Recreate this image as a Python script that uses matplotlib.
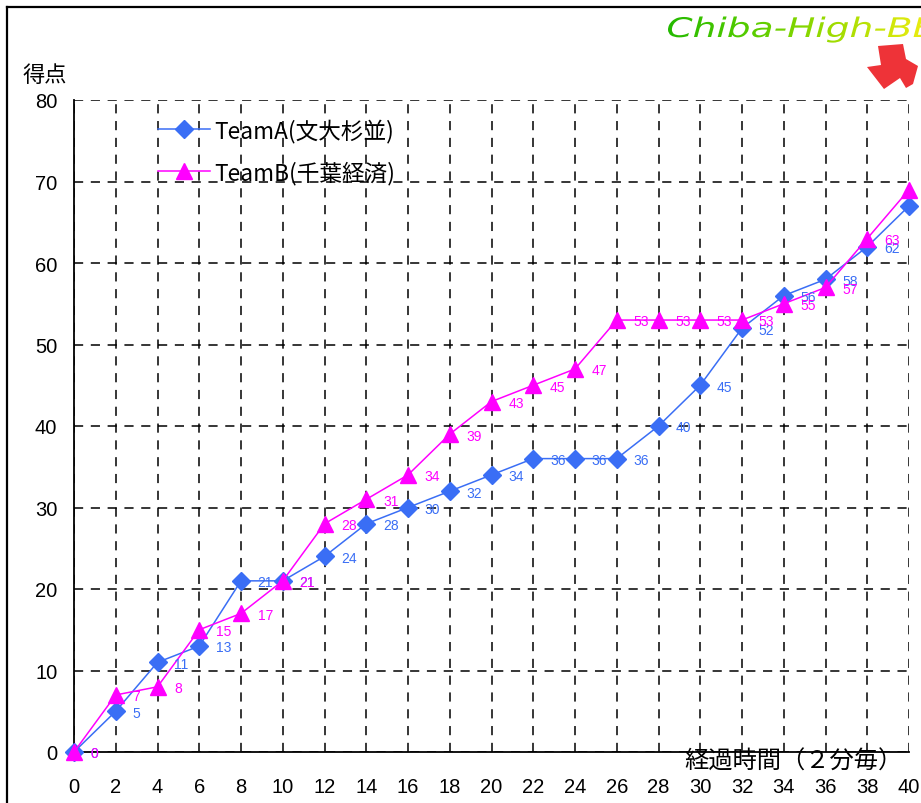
import matplotlib
matplotlib.use("Agg")
import numpy as np
import matplotlib.pyplot as plt
from matplotlib.patches import Polygon, PathPatch
from matplotlib.lines import Line2D
from matplotlib.textpath import TextPath
from matplotlib.font_manager import FontProperties
from matplotlib.transforms import Affine2D
from matplotlib.colors import LinearSegmentedColormap

plt.rcParams['font.family'] = ['Liberation Sans', 'Noto Sans CJK JP', 'DejaVu Sans']

# cumulative score every 2 minutes
minutes = list(range(0, 41, 2))
team_a = [0, 5, 11, 13, 21, 21, 24, 28, 30, 32, 34, 36, 36, 36, 40, 45, 52, 56, 58, 62, 67]
team_b = [0, 7, 8, 15, 17, 21, 28, 31, 34, 39, 43, 45, 47, 53, 53, 53, 53, 55, 57, 63, 69]
name_a = "TeamA(文大杉並)"
name_b = "TeamB(千葉経済)"
y_ticks = list(range(0, 81, 10))

col_a = "#3a6ef5"
col_b = "#ff00ff"

W, H = 921, 804
fig = plt.figure(figsize=(W / 100, H / 100), dpi=100)
ax = fig.add_axes([74 / W, 1 - 753 / H, (909 - 74) / W, (753 - 101) / H])

ax.plot(minutes, team_a, color=col_a, lw=1.1, marker='D', ms=9, zorder=3,
        clip_on=False, label=name_a)
ax.plot(minutes, team_b, color=col_b, lw=1.1, marker='^', ms=11, zorder=4,
        clip_on=False, label=name_b)

for x, v in zip(minutes, team_a):
    ax.annotate(str(v), (x, v), xytext=(12, -1), textcoords='offset points',
                ha='left', va='center', fontsize=10, color=col_a,
                annotation_clip=False, zorder=5)
for x, v in zip(minutes, team_b):
    ax.annotate(str(v), (x, v), xytext=(12, -1), textcoords='offset points',
                ha='left', va='center', fontsize=10, color=col_b,
                annotation_clip=False, zorder=6)

ax.set_xlim(0, 40)
ax.set_ylim(0, 80)
ax.set_xticks(minutes)
ax.set_yticks(y_ticks)
ax.tick_params(axis='both', length=0, labelsize=14.5)
ax.tick_params(axis='x', pad=18)
ax.tick_params(axis='y', pad=12)
ax.grid(True, color='black', linestyle=(0, (6, 5)), lw=1.1)
for s in ('top', 'right'):
    ax.spines[s].set_visible(False)
for s in ('left', 'bottom'):
    ax.spines[s].set_linewidth(1.3)
    ax.spines[s].set_zorder(2.5)

leg = ax.legend(loc='upper left', bbox_to_anchor=(158 / W, 1 - 119 / H),
                bbox_transform=fig.transFigure, frameon=False,
                prop=FontProperties(family=['Noto Sans CJK JP'], size=16.3),
                handlelength=2.3, handletextpad=0.2, labelspacing=0.82,
                borderaxespad=0, borderpad=0)

fig.text(22 / W, 1 - 75 / H, "得点", fontsize=16, ha='left', va='center',
         family=['Noto Sans CJK JP'])
fig.text(903 / W, 1 - 762 / H, "経過時間（２分毎）", fontsize=17.5, ha='right',
         va='center', family=['Noto Sans CJK JP'])

# frame around the chart
fig.add_artist(Line2D([7 / W, 1.0], [1 - 8 / H, 1 - 8 / H], color='black', lw=1.6,
                      transform=fig.transFigure))
fig.add_artist(Line2D([7 / W, 7 / W], [1 - 8 / H, 0.0], color='black', lw=1.6,
                      transform=fig.transFigure))

# site logo: wide italic lettering with a green-to-yellow fill
lx0, lx1, ly0, ly1 = 660, 921, 9, 48
lax = fig.add_axes([lx0 / W, 1 - ly1 / H, (lx1 - lx0) / W, (ly1 - ly0) / H])
lax.set_xlim(0, lx1 - lx0)
lax.set_ylim(0, ly1 - ly0)
lax.axis('off')
tp = TextPath((0, 0), "Chiba-High-BB", size=27,
              prop=FontProperties(family='DejaVu Sans', style='italic'))
ext = tp.get_extents()
sx = 268 / ext.width
tp = tp.transformed(Affine2D().translate(-ext.x0, 0).scale(sx, 1.0).translate(8, 10))
patch = PathPatch(tp, facecolor='none', edgecolor='none')
lax.add_patch(patch)
grad = np.linspace(0, 1, 256).reshape(1, -1)
cmap = LinearSegmentedColormap.from_list('logo', ['#1fb800', '#55cc00', '#9fdc00', '#e8ec10'])
img = lax.imshow(grad, cmap=cmap, extent=(0, lx1 - lx0, 0, ly1 - ly0), aspect='auto')
img.set_clip_path(patch)

star = [(878, 47), (903, 45), (906, 60), (918, 67), (913, 85), (906, 89),
        (900, 79), (884, 90), (867, 68), (881, 66)]
fig.add_artist(Polygon([(px / W, 1 - py / H) for px, py in star], closed=True,
                       facecolor='#ee3338', edgecolor='none',
                       transform=fig.transFigure))

fig.savefig("out.png", dpi=100)
